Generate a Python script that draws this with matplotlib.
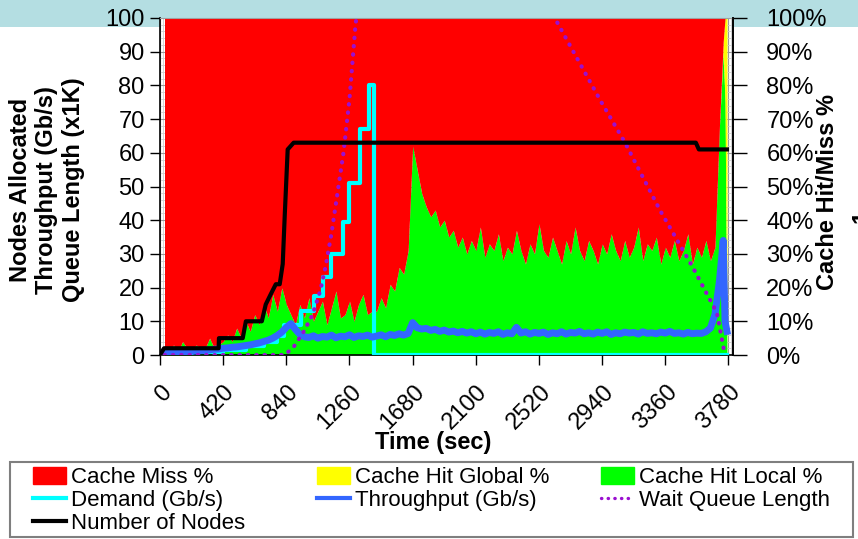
import matplotlib
matplotlib.use('Agg')
import matplotlib.pyplot as plt
import matplotlib.patches as mpatches
from matplotlib.lines import Line2D
from matplotlib.ticker import MultipleLocator, PercentFormatter
from matplotlib.transforms import ScaledTranslation
import numpy as np

plt.rcParams['font.family'] = ['Liberation Sans', 'DejaVu Sans']

# cache / throughput samples, every 30 s plus the drain at the end
sample_time = np.concatenate([np.arange(30, 3721, 30), [3745, 3757, 3770]])

cache_hit_local = [
    2, 1, 3, 1, 4, 2, 1, 3, 2, 2, 5, 2, 3,
    4, 6, 4, 8, 5, 10, 7, 12, 9, 15, 11, 18, 13, 20, 15,
    12, 9, 15, 11, 17, 10, 13, 16, 9, 14, 19, 11, 12, 16, 10, 15, 18, 12, 13,
    13, 17, 14, 21, 19, 26, 24, 31,
    62, 55, 48, 44, 41, 43, 38, 40, 35, 37,
    32, 35, 30, 34, 31, 38, 29, 33, 31, 36,
    28, 32, 30, 37, 31, 27, 33, 30, 39, 31,
    29, 35, 31, 27, 34, 30, 38, 31, 28, 34,
    31, 27, 33, 30, 36, 31, 28, 34, 29, 32,
    38, 28, 33, 31, 35, 27, 32, 29, 34, 28,
    31, 36, 27, 32, 29, 34, 28, 32, 68,
    90, 75, 0,
]
cache_hit_global = [0] * 124 + [3, 25, 100]

throughput = [
    0.4, 0.5, 0.7, 0.8, 0.9, 1.0, 1.1, 1.2, 1.3, 1.4, 1.5, 1.7, 1.8,
    2.0, 2.1, 2.3, 2.4, 2.6, 2.8, 3.0, 3.3, 3.6, 4.0, 4.4, 5.0, 5.8, 6.8, 8.2,
    9.3, 7.6, 6.1, 5.4, 5.2, 5.7, 5.0, 5.5, 5.3, 5.9, 5.1, 5.6, 5.4, 6.0, 5.2, 5.7, 5.5, 5.9, 5.3,
    5.6, 6.0, 5.4, 6.1, 5.8, 6.3, 5.9, 6.4,
    9.6, 8.1, 7.7, 7.9, 7.3, 7.6, 7.0, 7.4, 6.8, 7.1,
    6.6, 7.0, 6.5, 6.9, 6.3, 6.8, 6.2, 6.7, 6.4, 6.9,
    6.1, 6.6, 6.3, 8.2, 6.5, 6.9, 6.2, 6.7, 6.4, 6.8,
    6.1, 6.6, 6.3, 6.9, 6.2, 6.7, 6.5, 7.0, 6.3, 6.6,
    6.2, 6.8, 6.4, 6.9, 6.1, 6.6, 6.3, 6.8, 6.5, 6.7,
    6.2, 6.9, 6.4, 6.6, 6.3, 6.8, 6.5, 7.0, 6.4, 6.6,
    6.2, 6.7, 6.3, 6.5, 6.4, 6.9, 8.0, 12.0, 22.0,
    34.0, 10.0, 7.0,
]

# demand steps (Gb/s)
demand_time = [30, 210, 420, 570, 690, 780, 823, 935, 1022, 1081, 1135, 1214, 1254, 1327, 1387, 1420, 3770]
demand = [0.5, 1.0, 1.6, 2.6, 3.8, 5.5, 9.0, 13.0, 17.5, 23.0, 30.0, 39.5, 51.0, 67.0, 80.0, 0.0, 0.0]

# wait queue length (x1K)
queue_time = [30, 830, 890, 950, 1015, 1065, 1100, 1140, 1180, 1220, 1260, 1300, 1340,
              1800, 2300, 2625, 2926, 3092, 3324, 3543, 3703, 3756]
queue = [0, 0, 2.5, 6.5, 12, 19, 26, 36, 48, 60, 76, 98, 112,
         170, 150, 100, 75.7, 63, 43, 26, 12.5, 0]

# nodes allocated
nodes_time = [0, 27, 390, 392, 550, 571, 677, 703, 736, 770, 796, 816, 830, 849, 889, 3563, 3583, 3770]
nodes = [0, 2, 2, 5, 5, 10, 10, 15, 18, 21, 21, 27, 42, 61, 63, 63, 61, 61]

x_ticks = [0, 420, 840, 1260, 1680, 2100, 2520, 2940, 3360, 3780]

RED = '#FF0000'
YELLOW = '#FFFF00'
GREEN = '#00FF00'
CYAN = '#00FFFF'
BLUE = '#3366FF'
PURPLE = '#9A10D0'

W, H = 858, 539
fig = plt.figure(figsize=(W / 100, H / 100), dpi=100)
fig.patch.set_facecolor('white')

# light blue strip along the top edge
fig.patches.append(mpatches.Rectangle((0, 1 - 27 / H), 1, 27 / H, transform=fig.transFigure,
                                      facecolor='#B4DEE2', edgecolor='none', zorder=-5))

ax = fig.add_axes([160 / W, 1 - 355 / H, (733 - 160) / W, (355 - 18) / H])
ax.set_xlim(0, 3810)
ax.set_ylim(0, 100)
ax.set_facecolor('white')

# fine background grid
ax.xaxis.set_minor_locator(MultipleLocator(20))
ax.yaxis.set_minor_locator(MultipleLocator(2))
ax.grid(True, which='minor', color='#CFCFCF', linewidth=0.6)
ax.grid(True, which='major', color='#9A9A9A', linewidth=0.8)
ax.set_axisbelow(True)

stack_top = np.array(cache_hit_local) + np.array(cache_hit_global)
ax.fill_between(sample_time, 0, cache_hit_local, color=GREEN, linewidth=0, zorder=1)
ax.fill_between(sample_time, cache_hit_local, stack_top, color=YELLOW, linewidth=0, zorder=1)
ax.fill_between(sample_time, stack_top, 100, color=RED, linewidth=0, zorder=1)

ax.plot(demand_time, demand, color=CYAN, linewidth=3, drawstyle='steps-post', zorder=3)
ax.plot(sample_time, throughput, color=BLUE, linewidth=5, zorder=4)
ax.plot(queue_time, queue, color=PURPLE, linewidth=3, linestyle=(0, (0.1, 1.9)),
        dash_capstyle='round', zorder=5)
ax.plot(nodes_time, nodes, color='black', linewidth=3, zorder=6)

ax.set_xticks(x_ticks)
ax.set_yticks(range(0, 101, 10))
ax.tick_params(axis='both', which='major', direction='out', length=7, width=1, labelsize=17)
ax.tick_params(axis='both', which='minor', length=0)
ax.tick_params(axis='y', pad=4)
for lbl in ax.get_xticklabels():
    lbl.set_rotation(45)
    lbl.set_ha('right')
    lbl.set_va('center')
    lbl.set_rotation_mode('anchor')
    lbl.set_transform(lbl.get_transform() + ScaledTranslation(6 / 72, -14 / 72, fig.dpi_scale_trans))

for side in ('left', 'bottom', 'right'):
    ax.spines[side].set_color('black')
    ax.spines[side].set_linewidth(1.2)
ax.spines['top'].set_color('#A0A0A0')

ax2 = ax.twinx()
ax2.set_ylim(0, 100)
ax2.set_yticks(range(0, 101, 10))
ax2.yaxis.set_major_formatter(PercentFormatter(decimals=0))
ax2.tick_params(axis='y', direction='out', length=10, width=1, labelsize=17, pad=14)
for side in ('left', 'bottom', 'top'):
    ax2.spines[side].set_visible(False)
ax2.spines['right'].set_color('black')
ax2.spines['right'].set_linewidth(1.2)

fig.text(47 / W, 1 - 190 / H, 'Nodes Allocated\nThroughput (Gb/s)\nQueue Length (x1K)',
         rotation=90, ha='center', va='center', multialignment='center',
         fontsize=17, fontweight='bold', linespacing=1.2)
fig.text(828 / W, 1 - 192 / H, 'Cache Hit/Miss %', rotation=90, ha='center', va='center',
         fontsize=17, fontweight='bold')
fig.text(433 / W, 1 - 442 / H, 'Time (sec)', ha='center', va='center',
         fontsize=17, fontweight='bold')
fig.text(862 / W, 1 - 216 / H, '1', rotation=90, ha='center', va='center',
         fontsize=17, fontweight='bold')

# legend: framed box with three columns
fig.patches.append(mpatches.Rectangle((10 / W, 1 - 537 / H), 843 / W, 75 / H, transform=fig.transFigure,
                                      facecolor='white', edgecolor='#7F7F7F', linewidth=1.5, zorder=1))
columns = [
    ([mpatches.Patch(color=RED), Line2D([], [], color=CYAN, lw=3),
      Line2D([], [], color='black', lw=3)],
     ['Cache Miss %', 'Demand (Gb/s)', 'Number of Nodes'], 33),
    ([mpatches.Patch(color=YELLOW), Line2D([], [], color=BLUE, lw=3)],
     ['Cache Hit Global %', 'Throughput (Gb/s)'], 317),
    ([mpatches.Patch(color=GREEN),
      Line2D([], [], color=PURPLE, lw=2.4, linestyle=(0, (0.1, 1.9)), dash_capstyle='round')],
     ['Cache Hit Local %', 'Wait Queue Length'], 601),
]
for handles, labels, x0 in columns:
    leg = fig.legend(handles, labels, loc='upper left', bbox_to_anchor=(x0 / W, 1 - 467 / H),
                     frameon=False, fontsize=16, handlelength=1.5, handleheight=0.8,
                     handletextpad=0.2, labelspacing=0.08, borderpad=0, borderaxespad=0)
    leg.set_zorder(2)

fig.savefig('out.png', dpi=100)
